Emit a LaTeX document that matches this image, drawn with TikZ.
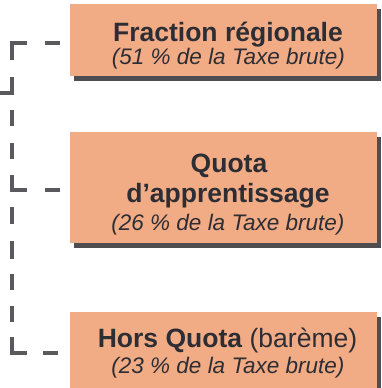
\documentclass[tikz,border=0pt]{standalone}
\usepackage{fontspec}
\setmainfont{Liberation Sans}
\usetikzlibrary{shadows}
\definecolor{peach}{RGB}{241,171,133}
\definecolor{shade}{RGB}{78,78,82}
\definecolor{dashgray}{RGB}{90,90,94}
\definecolor{ink}{RGB}{45,45,52}
\begin{document}
\begin{tikzpicture}[x=1pt,y=-1pt,
  box/.style={fill=peach, draw=none, inner sep=0, anchor=north west, minimum width=307pt,
    drop shadow={shadow xshift=4pt, shadow yshift=-5pt, fill=shade, opacity=1}},
  bt/.style={font=\fontsize{26.5}{30}\selectfont\bfseries, text=ink, anchor=base, inner sep=0},
  it/.style={font=\fontsize{22.5}{26}\selectfont\itshape, text=ink, anchor=base, inner sep=0},
  dl/.style={draw=dashgray, line width=3.5pt, line cap=butt, line join=miter}]
\useasboundingbox (0,0) rectangle (382,388);
% boxes
\node[box, minimum height=72pt] (b1) at (70,4) {};
\node[box, minimum height=111pt] (b2) at (70,132) {};
\node[box, minimum height=82pt] (b3) at (70,312) {};
% texts
\node[bt] (t1a) at (228,41.7) {Fraction régionale};
\node[it] (t1b) at (228.5,64) {(51 \% de la Taxe brute)};
\node[bt] (t2a) at (229,172) {Quota};
\node[bt] (t2b) at (228,202) {d’apprentissage};
\node[it] (t2c) at (228,230) {(26 \% de la Taxe brute)};
\node[bt] (t3a) at (227.5,347) {Hors Quota \textmd{(barème)}};
\node[it] (t3b) at (228,373) {(23 \% de la Taxe brute)};
% connector points
\coordinate (e1) at (60,43);
\coordinate (j1) at (12,43);
\coordinate (h1) at (12,93);
\coordinate (h0) at (0,93);
\coordinate (j2) at (12,190);
\coordinate (e2) at (60,190);
\coordinate (j3) at (12,353);
\coordinate (e3) at (58,353);
% dashed connectors
\draw[dl, dash pattern=on 15pt off 18pt on 32pt off 17pt on 40pt] (e1) -- (j1) -- (h1) -- (h0);
\draw[dl, dash pattern=on 0pt off 17pt on 16pt off 17pt on 16pt off 16pt on 30pt off 18pt on 15pt off 50pt] (h1) -- (j2) -- (e2);
\draw[dl, dash pattern=on 0pt off 17pt on 17pt off 17pt on 18pt off 15pt on 16pt off 16pt on 16pt off 15pt on 31pt off 16pt on 15pt off 50pt] (j2) -- (j3) -- (e3);
\end{tikzpicture}
\end{document}
